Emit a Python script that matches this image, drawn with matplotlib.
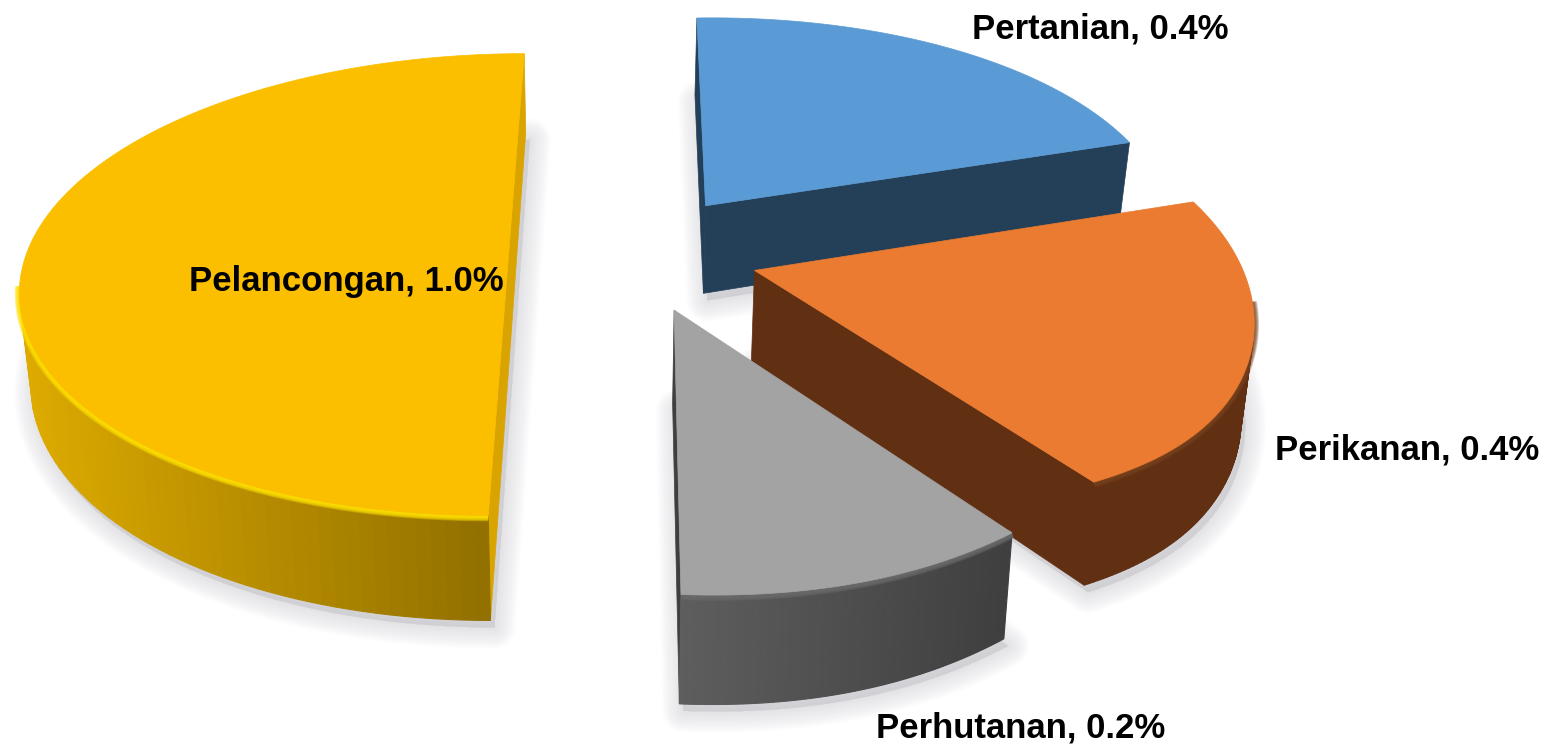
"""Exploded 3D pie: sectors drawn with a small perspective projection."""

import numpy as np
import matplotlib
matplotlib.use("Agg")
import matplotlib.pyplot as plt
from matplotlib.colors import to_rgb

kategori = ["Pertanian", "Pelancongan", "Perikanan", "Perhutanan"]
nilai = [0.4, 1.0, 0.4, 0.2]
urutan_pie = ["Pertanian", "Perikanan", "Perhutanan", "Pelancongan"]

warna_atas = {"Pertanian": "#5B9BD5", "Perikanan": "#EA7B30", "Perhutanan": "#A3A3A3", "Pelancongan": "#FBBF00"}
warna_jejari = {"Pertanian": "#243F58", "Perikanan": "#612F12", "Perhutanan": "#3F3F3F", "Pelancongan": "#D9A400"}
warna_lilit = {
    "Pertanian": ("#243F58", "#243F58"),
    "Perikanan": ("#612F12", "#612F12"),
    "Perhutanan": ("#5E5E5E", "#3F3F3F"),
    "Pelancongan": ("#DDAA00", "#8C6C00"),
}
warna_bevel = {"Pertanian": None, "Perikanan": "#7A4420", "Perhutanan": "#6A6A6A", "Pelancongan": "#FFE000"}
alpha_bevel = {"Pertanian": 0, "Perikanan": 0.22, "Perhutanan": 0.3, "Pelancongan": 0.3}
# rim shape: bulge size and how far along the arc it peaks
bonjol = {"Pertanian": 0.015, "Perikanan": 0.026, "Perhutanan": 0.012, "Pelancongan": 0.0}
kuasa_bonjol = {"Pertanian": 1.0, "Perikanan": 2.4, "Perhutanan": 1.0, "Pelancongan": 1.0}

# camera: vanishing point, focal scale, near distance, extrusion
VX, VY = 634.0, -1355.0
FX, FY = 3420.0, 11410.0
Z0 = 7.1
TINGGI = 640.0
LETUP = 0.26
# the base of the pie is a bit further away, walls lean inward
PUSAT_DASAR, SUSUT_DASAR = 600.0, 0.02


def proj(x, y, turun=0.0):
    z = Z0 + np.asarray(y)
    sx = VX + FX * np.asarray(x) / z
    sx = sx - (sx - PUSAT_DASAR) * SUSUT_DASAR * np.asarray(turun) / TINGGI
    return sx, VY + (FY + turun) / z


def lembut(ax, x, y, warna, lebar, alpha, zorder):
    for lw in np.linspace(lebar, 1, 8):
        ax.plot(x, y, color=warna, lw=lw, alpha=alpha, solid_capstyle="butt", zorder=zorder)


def luas(px, py):
    px, py = np.asarray(px), np.asarray(py)
    return 0.5 * np.sum(px * np.roll(py, -1) - np.roll(px, -1) * py)


jumlah = sum(nilai)
sudut = {}
mula = 0.0
for nama in urutan_pie:
    lebar = 360.0 * nilai[kategori.index(nama)] / jumlah
    sudut[nama] = (mula, mula + lebar)
    mula += lebar


def bentuk(nama):
    a0, a1 = np.radians(sudut[nama])
    tengah = (a0 + a1) / 2
    ox, oy = LETUP * np.sin(tengah), LETUP * np.cos(tengah)
    t = np.linspace(a0, a1, 120)
    s = (t - a0) / (a1 - a0)
    r = 1 + bonjol[nama] * np.sin(np.pi * s ** kuasa_bonjol[nama])
    return ox, oy, ox + r * np.sin(t), oy + r * np.cos(t)


fig = plt.figure(figsize=(15.55, 7.5), dpi=100)
ax = fig.add_axes([0, 0, 1, 1])
ax.set_xlim(0, 1555)
ax.set_ylim(750, 0)
ax.axis("off")

# soft ground shadow under each sector
for nama in urutan_pie:
    ox, oy, rx, ry = bentuk(nama)
    sx, sy = proj(np.r_[ox, rx], np.r_[oy, ry], TINGGI)
    for lw in np.linspace(30, 2, 12):
        ax.fill(sx + 4, sy + 7, facecolor="#B4B4BC", edgecolor="#B4B4BC", lw=lw, alpha=0.03,
                joinstyle="round", zorder=1)

# back to front
susunan = ["Pertanian", "Pelancongan", "Perikanan", "Perhutanan"]
for i, nama in enumerate(susunan):
    zo = 10 + i * 10
    ox, oy, rx, ry = bentuk(nama)

    # radial faces, keep only those turned to the viewer
    for tx, ty, arah in [(rx[0], ry[0], -1), (rx[-1], ry[-1], 1)]:
        qx = np.array([ox, tx, tx, ox])
        qy = np.array([oy, ty, ty, oy])
        turun = np.array([0, 0, TINGGI, TINGGI])
        px, py = proj(qx, qy, turun)
        if luas(px, py) * arah > 0:
            ax.fill(px, py, facecolor=warna_jejari[nama], edgecolor=warna_jejari[nama], lw=0.5, zorder=zo)

    # outer wall, colour runs across the screen
    kiri, kanan = warna_lilit[nama]
    kiri, kanan = np.array(to_rgb(kiri)), np.array(to_rgb(kanan))
    tx, ty = proj(rx, ry)
    bx, by = proj(rx, ry, TINGGI)
    x0, x1 = bx.min(), bx.max()
    for j in range(len(rx) - 1):
        px = [tx[j], tx[j + 1], bx[j + 1], bx[j]]
        py = [ty[j], ty[j + 1], by[j + 1], by[j]]
        if luas(px, py) > 0:
            continue
        f = ((tx[j] + bx[j]) / 2 - x0) / max(x1 - x0, 1)
        warna = kiri + (kanan - kiri) * np.clip(f, 0, 1)
        ax.fill(px, py, facecolor=warna, edgecolor=warna, lw=0.8, zorder=zo + 1)

    # bevel along the front rim, sits just under the top
    if warna_bevel[nama]:
        hadapan = ry - oy < -0.12
        lx, ly = proj(rx[hadapan], ry[hadapan], 6)
        lembut(ax, lx, ly, warna_bevel[nama], 7, alpha_bevel[nama], zo + 2)

    # top
    px, py = proj(np.r_[ox, rx], np.r_[oy, ry])
    ax.fill(px, py, facecolor=warna_atas[nama], edgecolor=warna_atas[nama], lw=0.5, zorder=zo + 3)

label_teks = {
    "Pertanian": (1100, 29),
    "Pelancongan": (346, 281),
    "Perikanan": (1407, 450),
    "Perhutanan": (1021, 728),
}
for nama, (x, y) in label_teks.items():
    ax.text(x, y, f"{nama}, {nilai[kategori.index(nama)]:.1f}%", ha="center", va="center",
            fontsize=25, fontweight="bold", color="black",
            family="Liberation Sans", zorder=70)

fig.savefig("out.png", dpi=100)
plt.close(fig)
